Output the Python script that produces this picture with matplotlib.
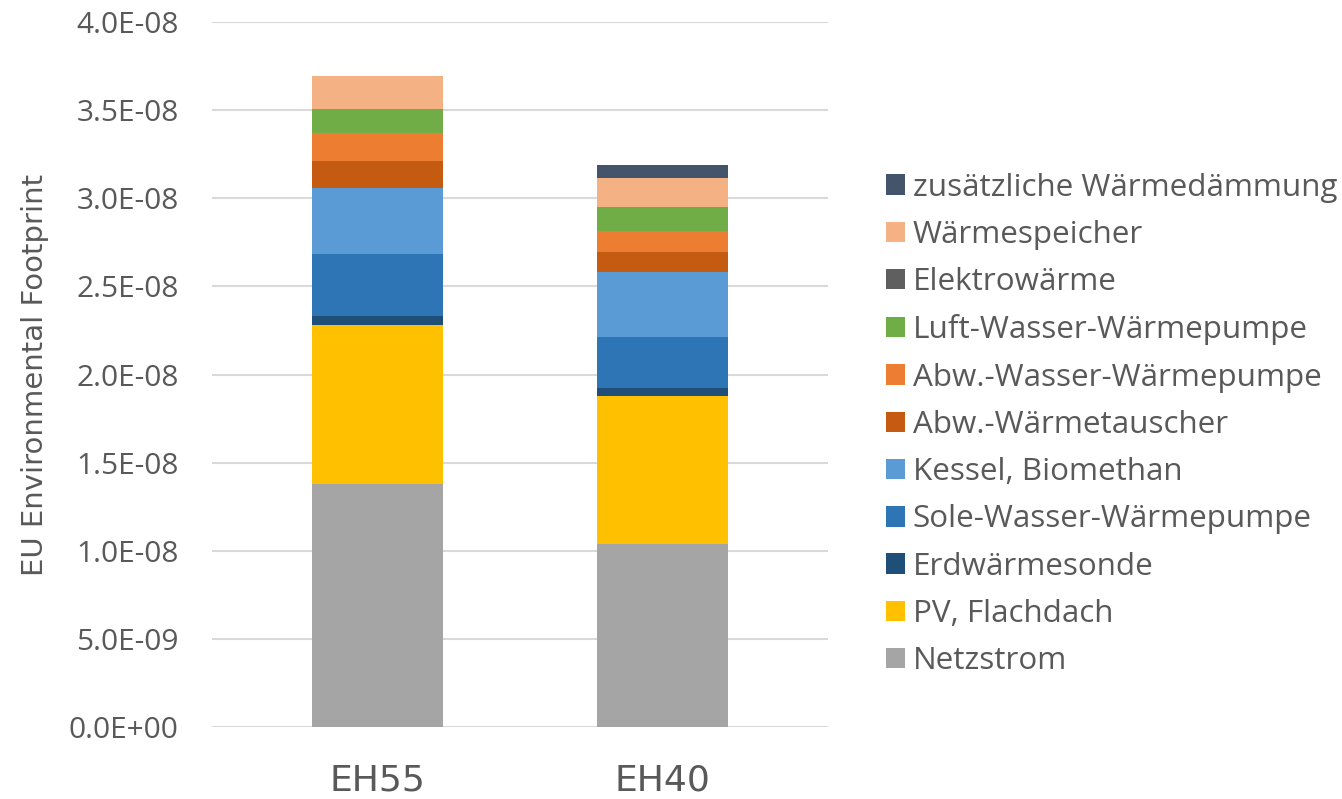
import numpy as np
import matplotlib
matplotlib.use("Agg")
import matplotlib.pyplot as plt
from matplotlib.ticker import FuncFormatter, MultipleLocator

# Stacked contributions to the EU Environmental Footprint (units of 1E-09)
buildings = ["EH55", "EH40"]

series = ["Netzstrom", "PV, Flachdach", "Erdwärmesonde", "Sole-Wasser-Wärmepumpe",
          "Kessel, Biomethan", "Abw.-Wärmetauscher", "Abw.-Wasser-Wärmepumpe",
          "Luft-Wasser-Wärmepumpe", "Elektrowärme", "Wärmespeicher",
          "zusätzliche Wärmedämmung"]

netzstrom = [13.82, 10.38]
pv_flachdach = [8.97, 8.42]
erdwaermesonde = [0.53, 0.44]
sole_wasser_wp = [3.50, 2.87]
kessel_biomethan = [3.78, 3.72]
abw_waermetauscher = [1.50, 1.12]
abw_wasser_wp = [1.60, 1.19]
luft_wasser_wp = [1.35, 1.34]
elektrowaerme = [0.0, 0.0]
waermespeicher = [1.89, 1.68]
zus_waermedaemmung = [0.0, 0.71]

values = [netzstrom, pv_flachdach, erdwaermesonde, sole_wasser_wp, kessel_biomethan,
          abw_waermetauscher, abw_wasser_wp, luft_wasser_wp, elektrowaerme,
          waermespeicher, zus_waermedaemmung]

colors = ["#A5A5A5", "#FFC000", "#1F4E79", "#2E75B6", "#5B9BD5", "#C55A11",
          "#ED7D31", "#70AD47", "#5F5F5F", "#F4B183", "#44546A"]

text_color = "#595959"

fig = plt.figure(figsize=(13.42, 7.99), dpi=100)
ax = fig.add_axes([212 / 1342, 1 - 727.4 / 799, 616 / 1342, 705.6 / 799])

x = np.arange(len(buildings))
bottom = np.zeros(len(buildings))
handles = []
for name, vals, col in zip(series, values, colors):
    v = np.array(vals) * 1e-9
    h = ax.bar(x, v, width=0.46, bottom=bottom, color=col, label=name,
               edgecolor="none", zorder=3)
    handles.append(h)
    bottom += v

ax.set_xlim(-0.581, 1.581)
ax.set_ylim(0, 4.0e-8)
ax.yaxis.set_major_locator(MultipleLocator(0.5e-8))
ax.yaxis.set_major_formatter(FuncFormatter(lambda v, p: "%.1E" % v))
ax.grid(axis="y", color="#D9D9D9", linewidth=1.5, zorder=0)
ax.set_axisbelow(True)

for s in ax.spines.values():
    s.set_visible(False)
ax.tick_params(length=0)
ax.tick_params(axis="y", pad=24, labelsize=21.5, labelcolor=text_color)
ax.tick_params(axis="x", pad=26, labelsize=26, labelcolor=text_color)
for lbl in ax.get_yticklabels():
    lbl.set_family("Open Sans")
ax.set_xticks(x)
ax.set_xticklabels(buildings, family=["Liberation Sans Narrow", "DejaVu Sans"])

ax.set_ylabel("EU Environmental Footprint", fontsize=21, color=text_color,
              family=["Liberation Sans Narrow", "DejaVu Sans"])
ax.yaxis.set_label_coords(-0.265, 0.5)

leg = fig.legend(handles[::-1], series[::-1], loc="upper left",
                 bbox_to_anchor=(873 / 1342, 1 - 160 / 799), frameon=False,
                 handlelength=0.62, handleheight=0.62, handletextpad=0.25,
                 labelspacing=0.55, borderaxespad=0,
                 prop={"family": "Open Sans", "size": 22.6})
for t in leg.get_texts():
    t.set_color(text_color)

fig.savefig("out.png", dpi=100)
